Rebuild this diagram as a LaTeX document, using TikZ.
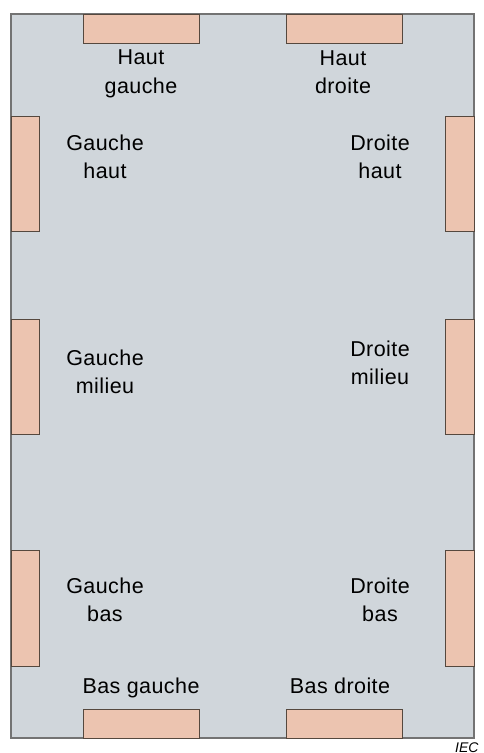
\documentclass[tikz,border=0pt]{standalone}
\usepackage{fontspec}
\setmainfont{Liberation Sans}
\newfontfamily\lblfont[LetterSpace=2]{Liberation Sans}
\usepackage{tikz}

\definecolor{panelgray}{RGB}{208,214,219}
\definecolor{padrose}{RGB}{236,196,176}
\definecolor{edgegray}{RGB}{115,115,115}
\definecolor{padedge}{RGB}{85,72,62}

\tikzset{
  pad/.style={fill=padrose,draw=padedge,line width=0.9bp},
  lbl/.style={align=center,font=\lblfont\fontsize{21.5bp}{28.5bp}\selectfont,inner sep=0pt},
}

\begin{document}
\begin{tikzpicture}[x=1bp,y=-1bp]
\useasboundingbox (0,0) rectangle (484,753);
\fill[white] (0,0) rectangle (484,753);

\draw [fill=panelgray,draw=edgegray,line width=1.2bp] (11,14) rectangle (474,738);

% top and bottom
\draw [pad] (83,14) rectangle (199,43);   \draw [pad] (286,14) rectangle (402,43);
\draw [pad] (83,709) rectangle (199,738); \draw [pad] (286,709) rectangle (402,738);

% left side
\draw [pad] (11,116) rectangle (39,231);
\draw [pad] (11,319) rectangle (39,434);
\draw [pad] (11,550) rectangle (39,666);

% right side
\draw [pad] (445,116) rectangle (474,231);
\draw [pad] (445,319) rectangle (474,434);
\draw [pad] (445,550) rectangle (474,666);

\node [lbl] (hg) at (141,74) {Haut\\gauche};
\node [lbl] (hd) at (343,72) {Haut\\droite};
\node [lbl] (gh) at (105,157) {Gauche\\haut};
\node [lbl] (dh) at (380,157) {Droite\\haut};
\node [lbl] (gm) at (105,372) {Gauche\\milieu};
\node [lbl] (dm) at (380,363) {Droite\\milieu};
\node [lbl] (gb) at (105,600) {Gauche\\bas};
\node [lbl] (db) at (380,600) {Droite\\bas};
\node [lbl] (bg) at (141,688) {Bas gauche};
\node [lbl] (bd) at (340,686) {Bas droite};

\node [anchor=north west,inner sep=0pt,font=\fontsize{14bp}{16bp}\itshape] (iec) at (455,743) {IEC};
\end{tikzpicture}
\end{document}
